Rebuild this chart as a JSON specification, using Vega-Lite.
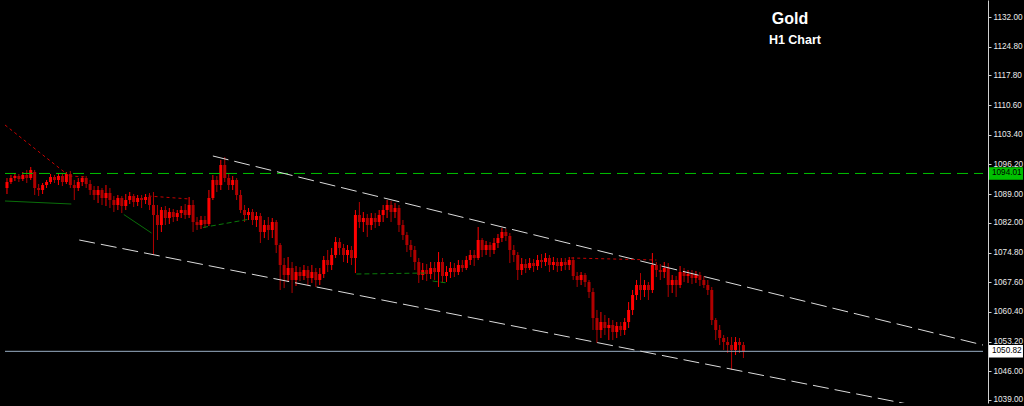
{
"$schema":"https://vega.github.io/schema/vega-lite/v6.json",
"width":988,"height":403,"autosize":{"type":"none"},
"padding":{"left":0,"top":0,"right":36,"bottom":3},
"background":"#000000",
"config":{"view":{"stroke":null},"axis":{"grid":false},
"axisY":{"domainColor":"#d0d0d0","tickColor":"#d0d0d0","tickSize":3,"labelPadding":2,"labelColor":"#ececec","labelFont":"Liberation Sans","labelFontSize":8.2,"domainWidth":1,"labelOverlap":false,"labelSeparation":0}},
"datasets":{
"bars":[
{"t":0,"o":1090.48,"c":1091.93,"h":1092.90,"l":1089.02},
{"t":1,"o":1091.93,"c":1092.90,"h":1093.63,"l":1091.45},
{"t":2,"o":1092.90,"c":1093.39,"h":1094.12,"l":1092.18},
{"t":3,"o":1093.39,"c":1092.66,"h":1093.88,"l":1091.93},
{"t":4,"o":1092.66,"c":1093.63,"h":1094.36,"l":1092.18},
{"t":5,"o":1093.63,"c":1092.90,"h":1094.85,"l":1091.69},
{"t":6,"o":1092.90,"c":1094.85,"h":1095.58,"l":1092.42},
{"t":7,"o":1094.36,"c":1090.48,"h":1094.85,"l":1088.78},
{"t":8,"o":1090.48,"c":1089.99,"h":1091.45,"l":1088.53},
{"t":9,"o":1089.99,"c":1091.20,"h":1091.69,"l":1089.02},
{"t":10,"o":1091.20,"c":1091.93,"h":1092.42,"l":1090.48},
{"t":11,"o":1091.93,"c":1093.15,"h":1093.88,"l":1091.45},
{"t":12,"o":1093.15,"c":1092.42,"h":1093.63,"l":1091.69},
{"t":13,"o":1092.42,"c":1093.39,"h":1094.12,"l":1091.20},
{"t":14,"o":1093.39,"c":1091.93,"h":1093.88,"l":1090.96},
{"t":15,"o":1091.93,"c":1093.88,"h":1094.36,"l":1091.45},
{"t":16,"o":1093.88,"c":1091.20,"h":1094.60,"l":1090.48},
{"t":17,"o":1091.20,"c":1090.48,"h":1092.42,"l":1087.56},
{"t":18,"o":1090.48,"c":1091.93,"h":1092.90,"l":1089.75},
{"t":19,"o":1091.93,"c":1092.90,"h":1093.39,"l":1090.96},
{"t":20,"o":1092.90,"c":1091.45,"h":1093.39,"l":1090.48},
{"t":21,"o":1091.45,"c":1089.99,"h":1092.42,"l":1088.78},
{"t":22,"o":1089.99,"c":1088.78,"h":1090.96,"l":1087.56},
{"t":23,"o":1088.78,"c":1089.99,"h":1090.96,"l":1086.83},
{"t":24,"o":1089.99,"c":1088.05,"h":1090.48,"l":1086.35},
{"t":25,"o":1088.05,"c":1089.26,"h":1091.20,"l":1086.10},
{"t":26,"o":1089.26,"c":1087.56,"h":1090.48,"l":1085.62},
{"t":27,"o":1087.56,"c":1086.35,"h":1088.53,"l":1084.65},
{"t":28,"o":1086.35,"c":1088.05,"h":1088.78,"l":1085.13},
{"t":29,"o":1088.05,"c":1086.10,"h":1088.53,"l":1084.40},
{"t":30,"o":1086.10,"c":1087.56,"h":1089.02,"l":1085.13},
{"t":31,"o":1087.56,"c":1088.53,"h":1089.50,"l":1086.59},
{"t":32,"o":1088.53,"c":1087.08,"h":1089.02,"l":1085.86},
{"t":33,"o":1087.08,"c":1088.05,"h":1088.78,"l":1086.10},
{"t":34,"o":1088.05,"c":1087.56,"h":1088.78,"l":1085.62},
{"t":35,"o":1087.56,"c":1088.29,"h":1089.02,"l":1086.59},
{"t":36,"o":1088.29,"c":1086.35,"h":1089.26,"l":1085.13},
{"t":37,"o":1086.35,"c":1083.92,"h":1089.50,"l":1074.21},
{"t":38,"o":1083.92,"c":1081.49,"h":1086.35,"l":1077.85},
{"t":39,"o":1081.49,"c":1085.13,"h":1085.86,"l":1079.79},
{"t":40,"o":1085.13,"c":1083.19,"h":1086.10,"l":1081.49},
{"t":41,"o":1083.19,"c":1084.65,"h":1085.62,"l":1081.73},
{"t":42,"o":1084.65,"c":1083.43,"h":1085.38,"l":1082.22},
{"t":43,"o":1083.43,"c":1084.40,"h":1085.13,"l":1082.46},
{"t":44,"o":1084.40,"c":1085.13,"h":1086.10,"l":1083.19},
{"t":45,"o":1085.13,"c":1083.92,"h":1086.59,"l":1082.95},
{"t":46,"o":1083.92,"c":1086.35,"h":1088.29,"l":1083.19},
{"t":47,"o":1086.35,"c":1082.22,"h":1087.56,"l":1079.79},
{"t":48,"o":1082.22,"c":1081.49,"h":1083.43,"l":1080.28},
{"t":49,"o":1081.49,"c":1082.71,"h":1083.68,"l":1080.52},
{"t":50,"o":1082.71,"c":1081.73,"h":1083.68,"l":1080.76},
{"t":51,"o":1081.73,"c":1088.05,"h":1089.99,"l":1081.25},
{"t":52,"o":1088.05,"c":1092.42,"h":1093.63,"l":1087.56},
{"t":53,"o":1092.42,"c":1091.20,"h":1093.39,"l":1089.50},
{"t":54,"o":1091.20,"c":1096.06,"h":1097.28,"l":1089.99},
{"t":55,"o":1096.06,"c":1092.90,"h":1098.00,"l":1091.93},
{"t":56,"o":1092.90,"c":1091.20,"h":1093.88,"l":1089.99},
{"t":57,"o":1091.20,"c":1092.42,"h":1093.39,"l":1089.99},
{"t":58,"o":1092.42,"c":1088.78,"h":1092.90,"l":1087.56},
{"t":59,"o":1088.78,"c":1085.13,"h":1089.99,"l":1084.40},
{"t":60,"o":1085.13,"c":1083.92,"h":1086.35,"l":1082.22},
{"t":61,"o":1083.92,"c":1084.65,"h":1085.62,"l":1082.71},
{"t":62,"o":1084.65,"c":1082.71,"h":1085.38,"l":1081.49},
{"t":63,"o":1082.71,"c":1083.68,"h":1084.65,"l":1081.01},
{"t":64,"o":1083.68,"c":1079.79,"h":1084.40,"l":1077.12},
{"t":65,"o":1079.79,"c":1081.49,"h":1082.71,"l":1078.33},
{"t":66,"o":1081.49,"c":1080.28,"h":1083.43,"l":1077.85},
{"t":67,"o":1080.28,"c":1082.22,"h":1083.19,"l":1078.33},
{"t":68,"o":1082.22,"c":1076.63,"h":1082.71,"l":1074.69},
{"t":69,"o":1076.63,"c":1071.78,"h":1077.12,"l":1065.71},
{"t":70,"o":1071.78,"c":1069.35,"h":1073.48,"l":1066.19},
{"t":71,"o":1069.35,"c":1071.05,"h":1073.72,"l":1067.65},
{"t":72,"o":1071.05,"c":1068.14,"h":1072.51,"l":1064.98},
{"t":73,"o":1068.14,"c":1070.08,"h":1071.53,"l":1066.68},
{"t":74,"o":1070.08,"c":1069.11,"h":1071.29,"l":1067.89},
{"t":75,"o":1069.11,"c":1070.56,"h":1071.78,"l":1068.14},
{"t":76,"o":1070.56,"c":1068.62,"h":1071.53,"l":1066.92},
{"t":77,"o":1068.62,"c":1070.08,"h":1071.78,"l":1067.41},
{"t":78,"o":1070.08,"c":1068.14,"h":1071.05,"l":1066.44},
{"t":79,"o":1068.14,"c":1069.59,"h":1071.05,"l":1066.92},
{"t":80,"o":1069.59,"c":1072.99,"h":1073.96,"l":1068.62},
{"t":81,"o":1072.99,"c":1071.78,"h":1075.42,"l":1070.08},
{"t":82,"o":1071.78,"c":1074.21,"h":1075.91,"l":1070.56},
{"t":83,"o":1074.21,"c":1077.36,"h":1078.58,"l":1073.48},
{"t":84,"o":1077.36,"c":1075.91,"h":1078.33,"l":1074.21},
{"t":85,"o":1075.91,"c":1074.21,"h":1076.88,"l":1072.51},
{"t":86,"o":1074.21,"c":1075.42,"h":1076.63,"l":1072.26},
{"t":87,"o":1075.42,"c":1073.48,"h":1076.39,"l":1071.78},
{"t":88,"o":1073.48,"c":1083.92,"h":1085.13,"l":1069.83},
{"t":89,"o":1083.92,"c":1082.22,"h":1087.08,"l":1080.76},
{"t":90,"o":1082.22,"c":1083.19,"h":1084.65,"l":1079.79},
{"t":91,"o":1083.19,"c":1081.49,"h":1084.16,"l":1078.58},
{"t":92,"o":1081.49,"c":1083.19,"h":1084.40,"l":1080.28},
{"t":93,"o":1083.19,"c":1082.22,"h":1084.40,"l":1080.76},
{"t":94,"o":1082.22,"c":1083.92,"h":1085.13,"l":1081.25},
{"t":95,"o":1083.92,"c":1085.13,"h":1086.35,"l":1082.22},
{"t":96,"o":1085.13,"c":1086.35,"h":1087.56,"l":1083.19},
{"t":97,"o":1086.35,"c":1084.65,"h":1087.32,"l":1082.22},
{"t":98,"o":1084.65,"c":1085.62,"h":1086.83,"l":1083.19},
{"t":99,"o":1085.62,"c":1081.49,"h":1086.35,"l":1079.79},
{"t":100,"o":1081.49,"c":1079.06,"h":1082.71,"l":1077.85},
{"t":101,"o":1079.06,"c":1076.63,"h":1079.79,"l":1074.93},
{"t":102,"o":1076.63,"c":1075.42,"h":1077.85,"l":1073.72},
{"t":103,"o":1075.42,"c":1072.51,"h":1076.39,"l":1070.56},
{"t":104,"o":1072.51,"c":1069.35,"h":1073.48,"l":1067.41},
{"t":105,"o":1069.35,"c":1070.56,"h":1072.26,"l":1068.14},
{"t":106,"o":1070.56,"c":1069.59,"h":1072.02,"l":1067.89},
{"t":107,"o":1069.59,"c":1071.05,"h":1072.51,"l":1068.38},
{"t":108,"o":1071.05,"c":1070.08,"h":1072.51,"l":1068.14},
{"t":109,"o":1070.08,"c":1072.51,"h":1074.93,"l":1066.44},
{"t":110,"o":1072.51,"c":1069.11,"h":1073.48,"l":1067.41},
{"t":111,"o":1069.11,"c":1070.08,"h":1071.53,"l":1067.65},
{"t":112,"o":1070.08,"c":1071.05,"h":1072.51,"l":1068.62},
{"t":113,"o":1071.05,"c":1070.08,"h":1072.26,"l":1068.86},
{"t":114,"o":1070.08,"c":1071.78,"h":1072.99,"l":1069.35},
{"t":115,"o":1071.78,"c":1071.05,"h":1072.99,"l":1070.08},
{"t":116,"o":1071.05,"c":1072.99,"h":1073.96,"l":1070.56},
{"t":117,"o":1072.99,"c":1074.21,"h":1075.42,"l":1071.78},
{"t":118,"o":1074.21,"c":1073.48,"h":1075.42,"l":1071.53},
{"t":119,"o":1073.48,"c":1077.85,"h":1081.01,"l":1072.99},
{"t":120,"o":1077.85,"c":1075.42,"h":1078.33,"l":1073.72},
{"t":121,"o":1075.42,"c":1076.63,"h":1077.61,"l":1074.21},
{"t":122,"o":1076.63,"c":1075.42,"h":1077.36,"l":1073.72},
{"t":123,"o":1075.42,"c":1077.12,"h":1078.33,"l":1074.45},
{"t":124,"o":1077.12,"c":1078.33,"h":1079.31,"l":1075.91},
{"t":125,"o":1078.33,"c":1079.79,"h":1080.76,"l":1077.36},
{"t":126,"o":1079.79,"c":1078.82,"h":1080.52,"l":1077.61},
{"t":127,"o":1078.82,"c":1075.42,"h":1079.55,"l":1072.26},
{"t":128,"o":1075.42,"c":1074.21,"h":1076.63,"l":1072.51},
{"t":129,"o":1074.21,"c":1070.56,"h":1074.93,"l":1068.14},
{"t":130,"o":1070.56,"c":1072.02,"h":1073.48,"l":1069.35},
{"t":131,"o":1072.02,"c":1071.05,"h":1073.23,"l":1069.83},
{"t":132,"o":1071.05,"c":1072.26,"h":1073.48,"l":1070.56},
{"t":133,"o":1072.26,"c":1071.53,"h":1073.23,"l":1070.08},
{"t":134,"o":1071.53,"c":1072.99,"h":1074.21,"l":1070.56},
{"t":135,"o":1072.99,"c":1072.51,"h":1074.45,"l":1071.05},
{"t":136,"o":1072.51,"c":1073.48,"h":1074.69,"l":1071.53},
{"t":137,"o":1073.48,"c":1071.78,"h":1074.21,"l":1070.08},
{"t":138,"o":1071.78,"c":1072.51,"h":1073.72,"l":1070.56},
{"t":139,"o":1072.51,"c":1071.53,"h":1073.48,"l":1070.08},
{"t":140,"o":1071.53,"c":1072.51,"h":1073.48,"l":1070.32},
{"t":141,"o":1072.51,"c":1071.78,"h":1073.48,"l":1070.56},
{"t":142,"o":1071.78,"c":1072.99,"h":1073.72,"l":1070.56},
{"t":143,"o":1072.99,"c":1069.11,"h":1073.72,"l":1068.14},
{"t":144,"o":1069.11,"c":1068.14,"h":1070.08,"l":1066.44},
{"t":145,"o":1068.14,"c":1069.35,"h":1070.08,"l":1066.92},
{"t":146,"o":1069.35,"c":1067.65,"h":1069.83,"l":1066.44},
{"t":147,"o":1067.65,"c":1065.22,"h":1068.14,"l":1063.76},
{"t":148,"o":1065.22,"c":1058.91,"h":1066.19,"l":1056.00},
{"t":149,"o":1058.91,"c":1056.00,"h":1060.86,"l":1052.84},
{"t":150,"o":1056.00,"c":1057.94,"h":1060.37,"l":1054.05},
{"t":151,"o":1057.94,"c":1056.48,"h":1059.64,"l":1054.78},
{"t":152,"o":1056.48,"c":1057.21,"h":1058.91,"l":1053.56},
{"t":153,"o":1057.21,"c":1055.51,"h":1058.42,"l":1053.56},
{"t":154,"o":1055.51,"c":1056.97,"h":1057.94,"l":1054.05},
{"t":155,"o":1056.97,"c":1056.00,"h":1057.94,"l":1054.54},
{"t":156,"o":1056.00,"c":1057.94,"h":1058.91,"l":1054.78},
{"t":157,"o":1057.94,"c":1060.86,"h":1062.79,"l":1056.48},
{"t":158,"o":1060.86,"c":1064.49,"h":1065.71,"l":1059.64},
{"t":159,"o":1064.49,"c":1066.92,"h":1068.14,"l":1063.28},
{"t":160,"o":1066.92,"c":1065.71,"h":1069.83,"l":1063.28},
{"t":161,"o":1065.71,"c":1066.92,"h":1068.14,"l":1064.01},
{"t":162,"o":1066.92,"c":1065.71,"h":1067.65,"l":1063.28},
{"t":163,"o":1065.71,"c":1071.78,"h":1074.69,"l":1064.98},
{"t":164,"o":1071.78,"c":1070.56,"h":1072.51,"l":1068.86},
{"t":165,"o":1070.56,"c":1070.08,"h":1072.02,"l":1068.14},
{"t":166,"o":1070.08,"c":1071.05,"h":1072.51,"l":1068.62},
{"t":167,"o":1071.05,"c":1066.92,"h":1072.26,"l":1064.01},
{"t":168,"o":1066.92,"c":1068.14,"h":1069.35,"l":1064.98},
{"t":169,"o":1068.14,"c":1066.92,"h":1069.11,"l":1064.01},
{"t":170,"o":1066.92,"c":1070.08,"h":1071.53,"l":1066.19},
{"t":171,"o":1070.08,"c":1069.11,"h":1071.05,"l":1067.65},
{"t":172,"o":1069.11,"c":1069.59,"h":1070.56,"l":1067.41},
{"t":173,"o":1069.59,"c":1068.62,"h":1070.56,"l":1067.16},
{"t":174,"o":1068.62,"c":1069.35,"h":1070.32,"l":1067.41},
{"t":175,"o":1069.35,"c":1068.14,"h":1070.08,"l":1066.68},
{"t":176,"o":1068.14,"c":1066.92,"h":1069.11,"l":1066.19},
{"t":177,"o":1066.92,"c":1065.71,"h":1068.14,"l":1064.49},
{"t":178,"o":1065.71,"c":1058.42,"h":1066.44,"l":1057.21},
{"t":179,"o":1058.42,"c":1056.00,"h":1058.91,"l":1053.56},
{"t":180,"o":1056.00,"c":1054.05,"h":1057.21,"l":1052.35},
{"t":181,"o":1054.05,"c":1053.08,"h":1054.78,"l":1051.14},
{"t":182,"o":1053.08,"c":1052.35,"h":1054.29,"l":1050.41},
{"t":183,"o":1052.35,"c":1051.14,"h":1054.29,"l":1046.28},
{"t":184,"o":1051.14,"c":1053.08,"h":1054.29,"l":1049.92},
{"t":185,"o":1053.08,"c":1052.35,"h":1054.05,"l":1050.41},
{"t":186,"o":1052.35,"c":1050.82,"h":1053.08,"l":1049.19}
],
"segs":[
{"id":"lg","k":"lg","t":-0.5,"p":1094.01},{"id":"lg","k":"lg","t":246.5,"p":1094.01},
{"id":"lb","k":"lb","t":-0.5,"p":1050.82},{"id":"lb","k":"lb","t":246.5,"p":1050.82},
{"id":"u","k":"w","t":52,"p":1098.25},{"id":"u","k":"w","t":246.5,"p":1052.35},
{"id":"lo","k":"w","t":18.25,"p":1077.85},{"id":"lo","k":"w","t":227,"p":1038.1},
{"id":"r1","k":"r","t":-0.5,"p":1105.78},{"id":"r1","k":"r","t":15.75,"p":1093.39},
{"id":"r2","k":"r","t":15.75,"p":1093.39},{"id":"r2","k":"r","t":20.25,"p":1093.15},
{"id":"r3","k":"r","t":35.75,"p":1088.53},{"id":"r3","k":"r","t":46.25,"p":1087.80},
{"id":"r4","k":"r","t":142.5,"p":1073.48},{"id":"r4","k":"r","t":164,"p":1072.99},
{"id":"g1","k":"gs","t":-0.5,"p":1087.32},{"id":"g1","k":"gs","t":16.25,"p":1086.59},
{"id":"g2","k":"gs","t":29.5,"p":1084.04},{"id":"g2","k":"gs","t":36.5,"p":1079.55},
{"id":"g3","k":"gd","t":49.5,"p":1080.89},{"id":"g3","k":"gd","t":60.75,"p":1082.83},
{"id":"g4","k":"gd","t":88.25,"p":1069.59},{"id":"g4","k":"gd","t":105.75,"p":1069.83},
{"id":"g5","k":"gd","t":107.5,"p":1067.89},{"id":"g5","k":"gd","t":111.25,"p":1067.40}
],
"levels":[{"p":1094.01,"lab":"1094.01","k":"g"},{"p":1050.82,"lab":"1050.82","k":"b"}],
"titles":[{"t":197.75,"p":1131.4,"txt":"Gold","k":"a"},{"t":199,"p":1126.4,"txt":"H1 Chart","k":"b"}]
},
"layer":[
{"data":{"name":"bars"},"mark":{"type":"rule","strokeWidth":1},
 "encoding":{
 "x":{"field":"t","type":"quantitative","scale":{"domain":[-0.5,246.5],"nice":false,"zero":false},"axis":null},
 "y":{"field":"l","type":"quantitative","title":null,"scale":{"domain":[1038.27,1136.13],"nice":false,"zero":false},
  "axis":{"orient":"right","values":[1039,1046,1053.2,1060.4,1067.6,1074.8,1082,1089,1096.2,1103.4,1110.6,1117.8,1124.8,1132],"tickCount":20,"format":".2f","title":null,"labelOverlap":false,"labelSeparation":0}},
 "y2":{"field":"h"},
 "color":{"condition":{"test":"datum.c >= datum.o","value":"#ff0000"},"value":"#b00000"}}},
{"data":{"name":"bars"},"mark":{"type":"bar","width":3},
 "encoding":{
 "x":{"field":"t","type":"quantitative","axis":null},
 "y":{"field":"o","type":"quantitative","title":null},"y2":{"field":"c"},
 "color":{"condition":{"test":"datum.c >= datum.o","value":"#ff0000"},"value":"#b00000"}}},
{"data":{"name":"segs"},"transform":[{"filter":"datum.k == 'lg'"}],"mark":{"type":"line","strokeWidth":1,"strokeDash":[11,6]},
 "encoding":{"x":{"field":"t","type":"quantitative","axis":null},"y":{"field":"p","type":"quantitative","title":null},"detail":{"field":"id"},"color":{"value":"#00c000"}}},
{"data":{"name":"segs"},"transform":[{"filter":"datum.k == 'lb'"}],"mark":{"type":"line","strokeWidth":1},
 "encoding":{"x":{"field":"t","type":"quantitative","axis":null},"y":{"field":"p","type":"quantitative","title":null},"detail":{"field":"id"},"color":{"value":"#9aaec4"}}},
{"data":{"name":"segs"},"transform":[{"filter":"datum.k == 'w'"}],"mark":{"type":"line","strokeWidth":1,"strokeDash":[16,6],"clip":true},
 "encoding":{"x":{"field":"t","type":"quantitative","axis":null},"y":{"field":"p","type":"quantitative","title":null},"detail":{"field":"id"},"color":{"value":"#dcdcdc"}}},
{"data":{"name":"segs"},"transform":[{"filter":"datum.k == 'r'"}],"mark":{"type":"line","strokeWidth":1,"strokeDash":[3,3],"clip":true},
 "encoding":{"x":{"field":"t","type":"quantitative","axis":null},"y":{"field":"p","type":"quantitative","title":null},"detail":{"field":"id"},"color":{"value":"#c80000"}}},
{"data":{"name":"segs"},"transform":[{"filter":"datum.k == 'gs'"}],"mark":{"type":"line","strokeWidth":1,"clip":true},
 "encoding":{"x":{"field":"t","type":"quantitative","axis":null},"y":{"field":"p","type":"quantitative","title":null},"detail":{"field":"id"},"color":{"value":"#0a6e0a"}}},
{"data":{"name":"segs"},"transform":[{"filter":"datum.k == 'gd'"}],"mark":{"type":"line","strokeWidth":1,"strokeDash":[5,3],"clip":true},
 "encoding":{"x":{"field":"t","type":"quantitative","axis":null},"y":{"field":"p","type":"quantitative","title":null},"detail":{"field":"id"},"color":{"value":"#0a7a0a"}}},
{"data":{"name":"levels"},"mark":{"type":"point","x":"width","shape":"M0.16,-1H5.6V1H0.16Z","size":156,"filled":true,"opacity":1,"strokeWidth":0},
 "encoding":{"y":{"field":"p","type":"quantitative","title":null},
 "color":{"condition":{"test":"datum.k == 'g'","value":"#00c000"},"value":"#ffffff"}}},
{"data":{"name":"levels"},"mark":{"type":"text","x":"width","dx":4,"align":"left","baseline":"middle","font":"Liberation Sans","fontSize":8.2},
 "encoding":{"y":{"field":"p","type":"quantitative","title":null},"text":{"field":"lab"},"color":{"value":"#000000"}}},
{"data":{"name":"titles"},"transform":[{"filter":"datum.k == 'a'"}],"mark":{"type":"text","align":"center","baseline":"middle","font":"Liberation Sans","fontWeight":"bold","fontSize":16},
 "encoding":{"x":{"field":"t","type":"quantitative","axis":null},"y":{"field":"p","type":"quantitative","title":null},"text":{"field":"txt"},"color":{"value":"#ffffff"}}},
{"data":{"name":"titles"},"transform":[{"filter":"datum.k == 'b'"}],"mark":{"type":"text","align":"center","baseline":"middle","font":"Liberation Sans","fontWeight":"bold","fontSize":12.5},
 "encoding":{"x":{"field":"t","type":"quantitative","axis":null},"y":{"field":"p","type":"quantitative","title":null},"text":{"field":"txt"},"color":{"value":"#ffffff"}}}
]
}
